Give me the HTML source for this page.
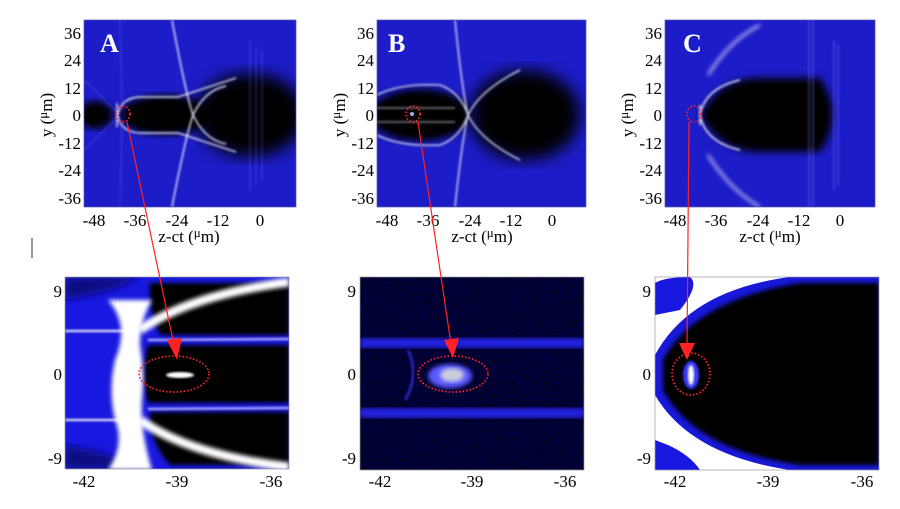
<!DOCTYPE html>
<html><head><meta charset="utf-8"><style>
body{margin:0;background:#fff;}
svg{display:block}
svg text{font-family:"Liberation Serif","Times New Roman",serif !important;fill:#000}
</style></head><body>
<svg width="900" height="509" viewBox="0 0 900 509" xmlns="http://www.w3.org/2000/svg" font-family="Liberation Serif, serif">
<defs>
<filter id="b2"><feGaussianBlur stdDeviation="2"/></filter>
<filter id="b4"><feGaussianBlur stdDeviation="4"/></filter>
<filter id="b8"><feGaussianBlur stdDeviation="8"/></filter>
<filter id="b1"><feGaussianBlur stdDeviation="1"/></filter>
<filter id="noise"><feTurbulence type="fractalNoise" baseFrequency="0.9" numOctaves="1" result="n"/><feColorMatrix type="matrix" values="0 0 0 0 0  0 0 0 0 0  0 0 0 0 0.9  0 0 0 -1.5 1.1"/></filter>
<clipPath id="cA"><rect x="84" y="20" width="212" height="187"/></clipPath>
<clipPath id="cB"><rect x="377" y="20" width="209" height="187"/></clipPath>
<clipPath id="cC"><rect x="665" y="20" width="210" height="187"/></clipPath>
<clipPath id="dA"><rect x="65" y="277" width="224" height="192"/></clipPath>
<clipPath id="dB"><rect x="360" y="277" width="224" height="193"/></clipPath>
<clipPath id="dC"><rect x="655" y="277" width="224" height="193"/></clipPath>
</defs>

<!-- TOP A -->
<g clip-path="url(#cA)">
<rect x="84" y="20" width="212" height="187" fill="#1c1cc8"/>
<ellipse cx="250" cy="115" rx="55" ry="42" fill="#000" filter="url(#b8)"/>
<ellipse cx="165" cy="115" rx="45" ry="20" fill="#000" filter="url(#b4)"/>
<ellipse cx="95" cy="115" rx="18" ry="14" fill="#000" filter="url(#b4)"/>
<g fill="none" stroke="#eef" stroke-width="1.4" filter="url(#b1)">
<path d="M117,120 Q118,98 140,97 L178,97 Q215,85 236,78"/>
<path d="M117,110 Q118,132 140,133 L178,133 Q215,145 236,152"/>
<path d="M172,20 Q186,95 193,115 Q186,135 172,207"/>
<path d="M193,115 Q205,90 226,86"/>
<path d="M193,115 Q205,140 226,144"/>
<path d="M117,103 L117,127"/>
</g>
<g stroke="#6a6aff" stroke-width="1" opacity="0.5" filter="url(#b1)">
<path d="M84,80 L115,110 M84,150 L115,120 M120,20 L122,110 M120,207 L122,120"/>
<path d="M250,40 L250,190 M256,45 L256,185 M262,50 L262,180"/>
</g>
</g>
<rect x="84" y="20" width="212" height="187" fill="none" stroke="#5555aa" stroke-width="0.7"/>
<text x="100" y="52" font-size="26" font-weight="bold" style="fill:#fff">A</text>

<!-- TOP B -->
<g clip-path="url(#cB)">
<rect x="377" y="20" width="209" height="187" fill="#1c1cc8"/>
<ellipse cx="525" cy="115" rx="55" ry="45" fill="#000" filter="url(#b8)"/>
<ellipse cx="420" cy="115" rx="50" ry="26" fill="#000" filter="url(#b4)"/>
<g fill="none" stroke="#eef" stroke-width="1.3" filter="url(#b1)">
<path d="M377,95 Q400,83 440,85 Q460,92 468,115 Q460,138 440,145 Q400,147 377,135"/>
<path d="M377,108 L455,108 M377,122 L455,122" stroke="#99a"/>
<path d="M455,20 Q462,90 468,115 Q462,140 455,207"/>
<path d="M468,115 Q480,90 520,70"/>
<path d="M468,115 Q480,140 520,160"/>
</g>
<circle cx="412" cy="114" r="2" fill="#aaf"/>
</g>
<rect x="377" y="20" width="209" height="187" fill="none" stroke="#5555aa" stroke-width="0.7"/>
<text x="388" y="52" font-size="26" font-weight="bold" style="fill:#fff">B</text>

<!-- TOP C -->
<g clip-path="url(#cC)">
<rect x="665" y="20" width="210" height="187" fill="#1c1cc8"/>
<path d="M700,115 Q720,78 760,78 L820,78 Q845,115 820,152 L760,152 Q720,152 700,115Z" fill="#000" filter="url(#b4)"/>
<g fill="none" stroke="#e0e0ff" stroke-width="2.5" filter="url(#b2)" opacity="0.85">
<path d="M708,75 Q730,40 760,25"/>
<path d="M708,155 Q730,190 760,207"/>
</g>
<g fill="none" stroke="#eef" stroke-width="1.5" filter="url(#b1)">
<path d="M700,115 Q705,88 740,80"/><path d="M700,115 Q705,142 740,150"/>
<path d="M700,105 L700,125"/>
</g>
<g stroke="#7a7aff" stroke-width="1.2" opacity="0.55" filter="url(#b1)">
<path d="M809,20 L809,207 M813,20 L813,207 M834,40 L834,190 M838,45 L838,185"/>
</g>
</g>
<rect x="665" y="20" width="210" height="187" fill="none" stroke="#5555aa" stroke-width="0.7"/>
<text x="683" y="52" font-size="26" font-weight="bold" style="fill:#fff">C</text>

<!-- top axis labels -->
<g font-size="17" text-anchor="end">
<text x="81" y="39">36</text><text x="81" y="66">24</text><text x="81" y="94">12</text><text x="81" y="121">0</text><text x="81" y="149">-12</text><text x="81" y="176">-24</text><text x="81" y="204">-36</text>
<text x="374" y="39">36</text><text x="374" y="66">24</text><text x="374" y="94">12</text><text x="374" y="121">0</text><text x="374" y="149">-12</text><text x="374" y="176">-24</text><text x="374" y="204">-36</text>
<text x="662" y="39">36</text><text x="662" y="66">24</text><text x="662" y="94">12</text><text x="662" y="121">0</text><text x="662" y="149">-12</text><text x="662" y="176">-24</text><text x="662" y="204">-36</text>
</g>
<g font-size="17" text-anchor="middle">
<text x="94" y="226">-48</text><text x="135" y="226">-36</text><text x="177" y="226">-24</text><text x="218" y="226">-12</text><text x="260" y="226">0</text>
<text x="387" y="226">-48</text><text x="428" y="226">-36</text><text x="470" y="226">-24</text><text x="511" y="226">-12</text><text x="552" y="226">0</text>
<text x="675" y="226">-48</text><text x="716" y="226">-36</text><text x="758" y="226">-24</text><text x="799" y="226">-12</text><text x="840" y="226">0</text>
<text x="189" y="242">z-ct (<tspan font-size="13" dy="-5">μ</tspan><tspan dy="5">m)</tspan></text>
<text x="482" y="242">z-ct (<tspan font-size="13" dy="-5">μ</tspan><tspan dy="5">m)</tspan></text>
<text x="770" y="242">z-ct (<tspan font-size="13" dy="-5">μ</tspan><tspan dy="5">m)</tspan></text>
<text transform="translate(52,115) rotate(-90)">y (<tspan font-size="13" dy="-5">μ</tspan><tspan dy="5">m)</tspan></text>
<text transform="translate(345,115) rotate(-90)">y (<tspan font-size="13" dy="-5">μ</tspan><tspan dy="5">m)</tspan></text>
<text transform="translate(633,115) rotate(-90)">y (<tspan font-size="13" dy="-5">μ</tspan><tspan dy="5">m)</tspan></text>
</g>
<line x1="32" y1="238" x2="32" y2="258" stroke="#333" stroke-width="1"/>

<!-- BOTTOM A -->
<g clip-path="url(#dA)">
<rect x="65" y="277" width="224" height="192" fill="#1818e0"/>
<path d="M150,283 Q200,283 289,283 L289,335 L160,335 Q148,310 150,283Z" fill="#000" filter="url(#b2)"/>
<path d="M148,345 L289,345 L289,403 L148,403 Q140,374 148,345Z" fill="#000" filter="url(#b2)"/>
<path d="M150,412 L289,412 L289,465 L170,465 Q148,440 150,412Z" fill="#000" filter="url(#b2)"/>
<path d="M65,277 L140,277 Q120,290 65,300Z" fill="#0a0a80" filter="url(#b4)"/>
<path d="M65,469 L140,469 Q120,455 65,445Z" fill="#0a0a80" filter="url(#b4)"/>
<g fill="#fff" filter="url(#b2)">
<path d="M108,300 Q130,325 115,360 Q108,390 115,420 Q125,445 108,470 L152,470 Q140,430 142,400 Q145,374 140,345 Q140,320 152,300Z"/>
</g>
<g fill="none" stroke="#fff" filter="url(#b2)">
<path d="M140,330 Q190,295 289,282" stroke-width="9"/>
<path d="M140,420 Q190,455 289,467" stroke-width="9"/>
</g>
<g fill="none" stroke="#fff" filter="url(#b1)">
<path d="M65,331 L140,331" stroke-width="2"/>
<path d="M65,420 L140,420" stroke-width="2"/>
<path d="M148,340 L289,339" stroke-width="2" stroke="#c8c8ff"/>
<path d="M148,409 L289,408" stroke-width="2" stroke="#c8c8ff"/>
</g>
<ellipse cx="180" cy="375" rx="14" ry="3" fill="#fff" filter="url(#b1)"/>
</g>
<rect x="65" y="277" width="224" height="192" fill="none" stroke="#999" stroke-width="0.7"/>

<!-- BOTTOM B -->
<g clip-path="url(#dB)">
<rect x="360" y="277" width="224" height="193" fill="#000"/>
<rect x="360" y="277" width="224" height="193" fill="#0c0c70" filter="url(#noise)" opacity="0.6"/>
<rect x="360" y="338" width="224" height="10" fill="#2424e0" filter="url(#b2)"/>
<rect x="360" y="408" width="224" height="10" fill="#2424e0" filter="url(#b2)"/>
<ellipse cx="450" cy="376" rx="22" ry="12" fill="#5a5aff" filter="url(#b2)"/>
<ellipse cx="452" cy="375" rx="12" ry="7" fill="#ccd" filter="url(#b2)"/>
<path d="M408,350 Q420,375 405,400" stroke="#2828b0" stroke-width="3" fill="none" filter="url(#b1)"/>
</g>
<rect x="360" y="277" width="224" height="193" fill="none" stroke="#999" stroke-width="0.7"/>

<!-- BOTTOM C -->
<g clip-path="url(#dC)">
<rect x="655" y="277" width="224" height="193" fill="#fff"/>
<path d="M655,283 Q665,277 690,277 Q700,285 680,310 L655,315Z" fill="#1818e0"/>
<path d="M655,470 L700,470 Q690,455 668,445 L655,440Z" fill="#1818e0"/>
<path d="M655,355 Q690,290 790,277 L879,277 L879,470 L790,470 Q690,455 655,395Z" fill="#1818d8"/>
<path d="M663,360 Q695,300 800,283 L879,283 L879,465 L800,465 Q695,450 663,390Z" fill="#000" filter="url(#b2)"/>
<ellipse cx="691" cy="375" rx="8" ry="14" fill="#3a3aff" filter="url(#b1)"/>
<ellipse cx="691" cy="375" rx="3" ry="10" fill="#fff" filter="url(#b1)"/>
</g>
<rect x="655" y="277" width="224" height="193" fill="none" stroke="#999" stroke-width="0.7"/>

<!-- bottom labels -->
<g font-size="17" text-anchor="end">
<text x="62" y="297">9</text><text x="62" y="380">0</text><text x="62" y="464">-9</text>
<text x="356" y="297">9</text><text x="356" y="380">0</text><text x="356" y="464">-9</text>
<text x="651" y="297">9</text><text x="651" y="380">0</text><text x="651" y="464">-9</text>
</g>
<g font-size="17" text-anchor="middle">
<text x="84" y="487">-42</text><text x="177" y="487">-39</text><text x="271" y="487">-36</text>
<text x="380" y="487">-42</text><text x="472" y="487">-39</text><text x="565" y="487">-36</text>
<text x="675" y="487">-42</text><text x="768" y="487">-39</text><text x="862" y="487">-36</text>
</g>

<!-- circles & arrows -->
<g fill="none" stroke="#f22" stroke-width="1.8" stroke-dasharray="1.5,2">
<ellipse cx="123" cy="114" rx="7" ry="8"/>
<ellipse cx="413" cy="114" rx="7" ry="8"/>
<ellipse cx="694" cy="114" rx="7" ry="8"/>
<ellipse cx="174" cy="374" rx="35" ry="18"/>
<ellipse cx="453" cy="374" rx="35" ry="18"/>
<ellipse cx="691" cy="374" rx="19" ry="21"/>
</g>
<g stroke="#f22" stroke-width="1.2">
<line x1="127" y1="122" x2="174" y2="345"/>
<line x1="418" y1="122" x2="451" y2="344"/>
<line x1="689" y1="122" x2="687" y2="345"/>
</g>
<g fill="#f22">
<polygon points="167,340 182,338 177,360"/>
<polygon points="444,340 459,338 453,358"/>
<polygon points="679,343 695,343 687,360"/>
</g>
</svg>
</body></html>
